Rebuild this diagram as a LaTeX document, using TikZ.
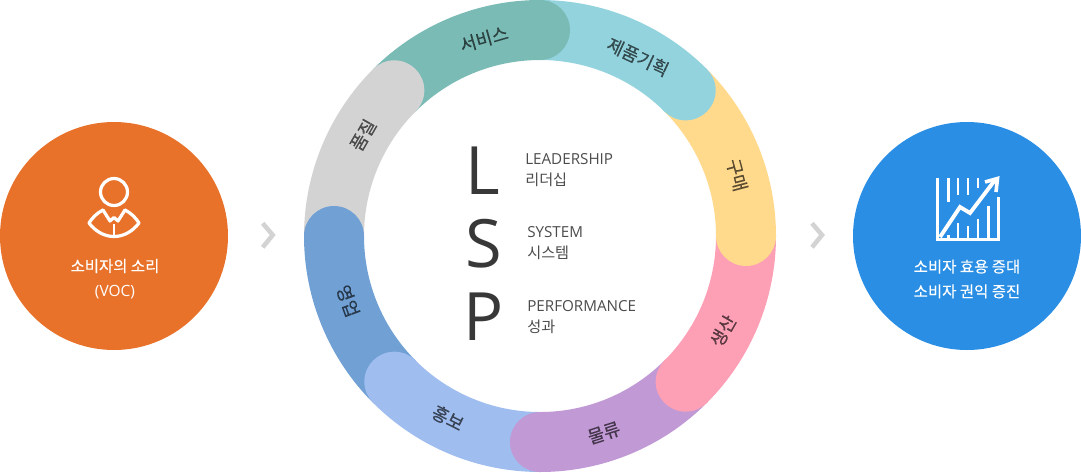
\documentclass[tikz,border=0pt]{standalone}
\usepackage{fontspec}
\setmainfont{Open Sans}
\newfontfamily\kr{Noto Sans CJK KR}
\newfontfamily\krb[FakeBold=0.25]{Noto Sans CJK KR}
\definecolor{cteal}{HTML}{7ABBB6}
\definecolor{ccyan}{HTML}{93D3DE}
\definecolor{cyellow}{HTML}{FFD98C}
\definecolor{cpink}{HTML}{FDA0B6}
\definecolor{cpurple}{HTML}{C199D5}
\definecolor{clight}{HTML}{9FBDEF}
\definecolor{cblue}{HTML}{70A0D4}
\definecolor{cgray}{HTML}{D3D3D3}
\definecolor{corange}{HTML}{E8722A}
\definecolor{cazure}{HTML}{2A8EE4}
\definecolor{ink}{HTML}{383838}
\tikzset{
  seglabel/.style={font=\krb\fontsize{13.4}{15}\selectfont,inner sep=0pt,text=black,text opacity=.62},
  big/.style={font=\fontsize{50}{54}\selectfont,text=ink,inner sep=0pt},
  desc/.style={font=\fontsize{11.4}{15.75}\selectfont,text=ink!90,inner sep=0pt,align=left,anchor=west},
  captext/.style={font=\krb\fontsize{11.6}{18.6}\selectfont,text=white,inner sep=0pt,align=center},
  icon/.style={draw=white,line width=2.4pt,line join=round,line cap=round},
  thinline/.style={draw=white,line width=2pt},
  chev/.style={draw=cgray,line width=3.4pt}
}
\begin{document}
\begin{tikzpicture}[x=.75pt,y=-.75pt]
\useasboundingbox (0,0) rectangle (1081,472);
% ring segments
\foreach \a/\b/\c in {135/90/cteal,90/45/ccyan,45/0/cyellow,0/-45/cpink,-45/-90/cpurple,-90/-135/clight,-135/-180/cblue,-180/-225/cgray}{
  \fill[\c] ({540+236*cos(\a)},{236-236*sin(\a)}) arc[start angle=-\a,end angle=-\b,radius=236]
     -- ({540+176*cos(\b)},{236-176*sin(\b)}) arc[start angle=-\b,end angle=-\a,radius=176] -- cycle;
}
\foreach \a/\c in {90/cteal,45/ccyan,0/cyellow,-45/cpink,-90/cpurple,-135/clight,180/cblue,135/cgray}{
  \fill[\c] ({540+206*cos(\a)},{236-206*sin(\a)}) circle[radius=30];
}
\node[seglabel,rotate=16]  (s1) at (484,39)  {서비스};
\node[seglabel,rotate=-25] (s2) at (638,57)  {제품기획};
\node[seglabel,rotate=-75] (s3) at (737,175) {구매};
\node[seglabel,rotate=60]  (s4) at (723,331) {생산};
\node[seglabel,rotate=18]  (s5) at (604,433) {물류};
\node[seglabel,rotate=-27] (s6) at (448,418) {홍보};
\node[seglabel,rotate=-70] (s7) at (348,301) {영업};
\node[seglabel,rotate=60]  (s8) at (363,135) {품질};
% LSP
\node[big] (L) at (483,171) {L};
\node[big] (S) at (484,244) {S};
\node[big] (P) at (484,317) {P};
\node[desc] (d1) at (525,170) {LEADERSHIP\\{\kr 리더십}};
\node[desc] (d2) at (527,243) {SYSTEM\\{\kr 시스템}};
\node[desc] (d3) at (527,317) {PERFORMANCE\\{\kr 성과}};
% side circles
\fill[corange] (114,236) circle[radius=114];
\fill[cazure] (967,236) circle[radius=114];
\node[captext] (c1) at (115,279) {소비자의 소리\\{\fontspec{Open Sans}(VOC)}};
\node[captext] (c2) at (967,279) {소비자 효용 증대\\소비자 권익 증진};
% chevrons
\draw[chev] (262.7,223.3) -- (272.7,235) -- (262.7,247.3);
\draw[chev] (812,223.3) -- (822,235) -- (812,247.3);
% person icon
\draw[icon] (114,192) circle[radius=13.5];
\draw[icon] (103,210) .. controls (97,213) and (92,218) .. (89,223)
  .. controls (95,231) and (104,236.5) .. (114,236.5)
  .. controls (124,236.5) and (133,231) .. (139,223)
  .. controls (136,218) and (131,213) .. (125,210);
\draw[icon] (103,210) -- (110,221) -- (114,217.5) -- (118,221) -- (125,210);
\draw[thinline] (114,224) -- (114,236);
% chart icon
\draw[icon,line cap=butt,line join=miter] (937.7,178) -- (937.7,239.5) -- (998.3,239.5) -- (998.3,197);
\foreach \x/\ya/\yb in {948.3/178/202,958/178/195,968/178/195,978/178/188}{
  \draw[thinline] (\x,\ya) -- (\x,\yb);
}
\foreach \x/\ya in {948.3/235,958/223,968/226,978/219,988.3/206}{
  \draw[thinline] (\x,\ya) -- (\x,239.5);
}
\draw[icon,line width=2.9pt,line cap=butt,line join=miter] (940,237) -- (960,207) -- (970,213) -- (995,180);
\draw[icon,line width=2.7pt,line cap=butt,line join=miter] (985,182) -- (997.5,178.5) -- (996,192);
\end{tikzpicture}
\end{document}
